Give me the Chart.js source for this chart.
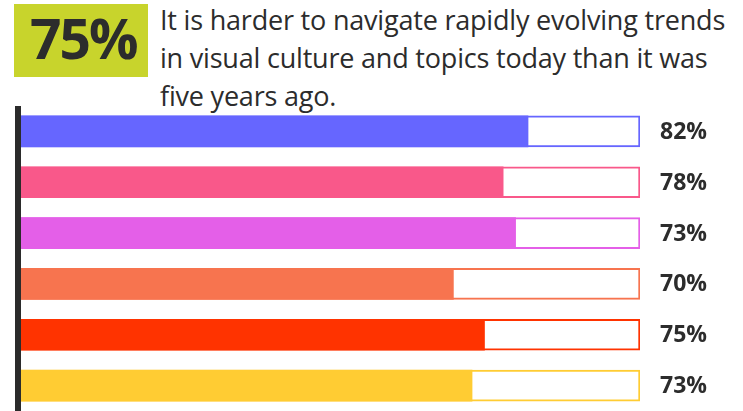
<!DOCTYPE html>
<html>
<head>
<meta charset="utf-8">
<script src="https://cdn.jsdelivr.net/npm/chart.js@4.4.0/dist/chart.umd.min.js"></script>
<style>
  html, body { margin: 0; padding: 0; background: #fff; }
  body { width: 743px; height: 411px; position: relative; overflow: hidden; font-family: "Open Sans", sans-serif; color: #2c2c2c; }
  #badge { position: absolute; left: 14px; top: 4px; width: 134px; height: 73px; background: #c8d42c; }
  #badge span { position: absolute; left: 16px; top: -4px; font-weight: 700; font-size: 55px; letter-spacing: -2px; color: #2c2c2c; }
  #headline { position: absolute; left: 160px; top: 1px; white-space: nowrap; font-size: 27px; line-height: 38px; letter-spacing: -0.2px; }
  #wrap { position: absolute; left: 0; top: 106px; width: 743px; height: 305px; }
</style>
</head>
<body>
<div id="badge"><span>75%</span></div>
<div id="headline">It is harder to navigate rapidly evolving trends<br>in visual culture and topics today than it was<br>five years ago.</div>
<div id="wrap"><canvas id="barChart"></canvas></div>
<script>
// Data for the chart
var categories = ["A", "B", "C", "D", "E", "F"];
var values = [82, 78, 80, 70, 75, 73];
var valueLabels = ["82%", "78%", "73%", "70%", "75%", "73%"];
var fullScale = [100, 100, 100, 100, 100, 100];
var colors = ["#6666ff", "#f9588a", "#e45fe8", "#f7744f", "#ff3300", "#ffcc33"];

// draws the percentage text to the right of each track
var endLabels = {
  id: 'endLabels',
  afterDatasetsDraw: function(chart) {
    var ctx = chart.ctx;
    var meta = chart.getDatasetMeta(1);
    ctx.save();
    ctx.font = "bold 23px 'Open Sans', sans-serif";
    ctx.fillStyle = "#2c2c2c";
    ctx.textBaseline = "middle";
    meta.data.forEach(function(bar, i) {
      ctx.fillText(valueLabels[i], bar.x + 20, bar.y + 1);
    });
    ctx.restore();
  }
};

var ctx = document.getElementById("barChart").getContext("2d");
var barChart = new Chart(ctx, {
  type: 'bar',
  data: {
    labels: categories,
    datasets: [{
      data: values,
      backgroundColor: colors,
      borderWidth: 0,
      barThickness: 31,
      grouped: false
    }, {
      data: fullScale,
      backgroundColor: "#ffffff",
      borderColor: colors,
      borderWidth: 2,
      barThickness: 31,
      grouped: false
    }]
  },
  options: {
    indexAxis: 'y',
    responsive: true,
    maintainAspectRatio: false,
    animation: false,
    layout: { padding: { left: 18, right: 103, top: 0, bottom: 0 } },
    plugins: { legend: { display: false }, tooltip: { enabled: false } },
    scales: {
      x: { display: false, min: 0, max: 100 },
      y: {
        afterFit: function(scale) { scale.width = 0; },
        grid: { display: false },
        ticks: { display: false },
        border: { display: true, color: "#2b2b2b", width: 6, z: 1 }
      }
    }
  },
  plugins: [endLabels]
});
</script>
</body>
</html>
